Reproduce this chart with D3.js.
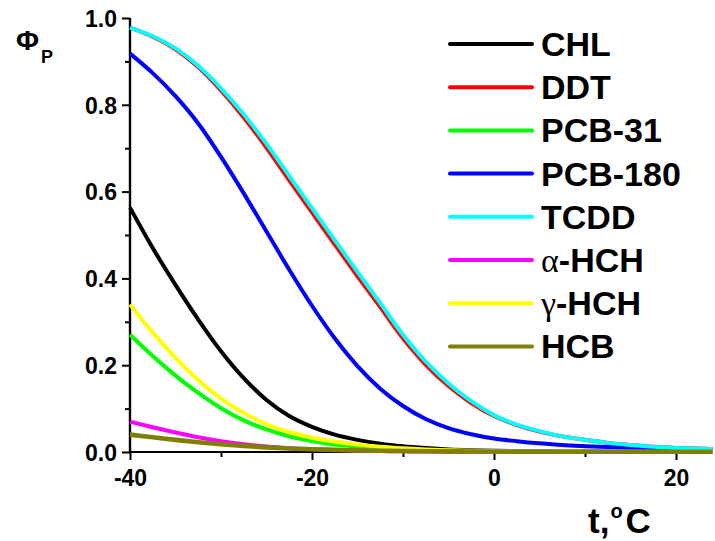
<!DOCTYPE html>
<html><head><meta charset="utf-8">
<script src="https://cdn.jsdelivr.net/npm/d3@7"></script>
<style>body{margin:0;background:#fff}svg{display:block}</style>
</head><body>
<svg id="c" width="715" height="541"></svg>
<script>
const temps = [-40,-37.5,-35,-32.5,-30,-27.5,-25,-22.5,-20,-17.5,-15,-12.5,-10,-7.5,-5,-2.5,0,2.5,5,7.5,10,12.5,15,17.5,20,22.5,24];
const CHL    = [0.563,0.47,0.385,0.305,0.232,0.17,0.12,0.083,0.058,0.04,0.028,0.019,0.013,0.009,0.006,0.0042,0.003,0.0022,0.0016,0.0012,0.001,0.0008,0.0006,0.0005,0.0004,0.0004,0.0003];
const DDT    = [0.978,0.957,0.928,0.887,0.833,0.771,0.701,0.626,0.552,0.478,0.405,0.334,0.262,0.201,0.152,0.113,0.083,0.062,0.047,0.036,0.028,0.021,0.016,0.012,0.0095,0.0078,0.007];
const PCB31  = [0.27,0.221,0.176,0.136,0.101,0.073,0.052,0.036,0.025,0.017,0.012,0.0085,0.006,0.0043,0.0031,0.0022,0.0016,0.0012,0.0009,0.0007,0.0005,0.0004,0.0003,0.0003,0.0002,0.0002,0.0002];
const PCB180 = [0.918,0.873,0.82,0.757,0.68,0.596,0.508,0.42,0.337,0.262,0.198,0.146,0.106,0.076,0.055,0.041,0.031,0.025,0.02,0.016,0.0135,0.0115,0.01,0.009,0.008,0.007,0.0065];
const TCDD   = [0.978,0.958,0.93,0.89,0.838,0.778,0.71,0.636,0.562,0.488,0.415,0.343,0.27,0.208,0.158,0.117,0.085,0.063,0.048,0.036,0.028,0.021,0.016,0.012,0.0095,0.0078,0.007];
const aHCH   = [0.07,0.057,0.045,0.034,0.025,0.018,0.0125,0.0088,0.0062,0.0044,0.0031,0.0022,0.0015,0.001,0.0007,0.0005,0.0004,0.0003,0.0002,0.0002,0.0001,0.0001,0.0001,0.0001,0,0,0];
const gHCH   = [0.34,0.275,0.217,0.166,0.123,0.09,0.064,0.046,0.033,0.024,0.017,0.012,0.0085,0.006,0.0043,0.003,0.0022,0.0016,0.0012,0.001,0.0008,0.0006,0.0005,0.0004,0.0003,0.0003,0.0003];
const HCB    = [0.04,0.034,0.028,0.0225,0.0178,0.0138,0.0106,0.0081,0.0062,0.0048,0.0037,0.0029,0.0023,0.0018,0.0015,0.0012,0.001,0.0009,0.0008,0.0007,0.0006,0.0006,0.0005,0.0005,0.0005,0.0005,0.0005];

const seriesNames  = ["CHL","DDT","PCB-31","PCB-180","TCDD","α-HCH","γ-HCH","HCB"];
const seriesValues = [CHL, DDT, PCB31, PCB180, TCDD, aHCH, gHCH, HCB];
const seriesColors = ["#000000","#ff0000","#00ff00","#0000ff","#00ffff","#ff00ff","#ffff00","#808000"];

const xMajorTicks = [-40,-20,0,20];
const xTickLabels = ["-40","-20","0","20"];
const xMinorTicks = [-30,-10,10];
const yMajorTicks = [0,0.2,0.4,0.6,0.8,1.0];
const yTickLabels = ["0.0","0.2","0.4","0.6","0.8","1.0"];
const yMinorTicks = [0.1,0.3,0.5,0.7,0.9];

const svg = d3.select("#c");
const x = d3.scaleLinear().domain([-40,24]).range([130,712.4]);
const y = d3.scaleLinear().domain([0,1]).range([452,18]);

const font = "'Liberation Sans', Arial, sans-serif";
const gx = svg.append("g").attr("transform","translate(0,452)")
  .call(d3.axisBottom(x).tickValues(xMinorTicks).tickSize(5).tickFormat(""));
const gx2 = svg.append("g").attr("transform","translate(0,452)")
  .call(d3.axisBottom(x).tickValues(xMajorTicks).tickSize(8).tickPadding(10)
  .tickFormat((d,i)=>xTickLabels[i]));
const gy = svg.append("g").attr("transform","translate(130,0)")
  .call(d3.axisLeft(y).tickValues(yMinorTicks).tickSize(5).tickFormat(""));
const gy2 = svg.append("g").attr("transform","translate(130,0)")
  .call(d3.axisLeft(y).tickValues(yMajorTicks).tickSize(8).tickPadding(5)
  .tickFormat((d,i)=>yTickLabels[i]));
svg.selectAll(".domain").attr("stroke","#000").attr("stroke-width",2.2);
svg.selectAll(".tick line").attr("stroke","#000").attr("stroke-width",2);
svg.selectAll(".tick text").attr("fill","#000").attr("font-family",font)
  .attr("font-weight","bold").attr("font-size",23);
gx2.selectAll(".tick text").attr("dy","0.71em");
gy2.selectAll(".tick text").attr("dy","0.36em");
gx.select(".domain").attr("d","M130,0H712.4");
gx2.select(".domain").attr("d","M130,0H712.4");
gy.select(".domain").attr("d","M0,18V452");
gy2.select(".domain").attr("d","M0,18V452");

// curves
const line = d3.line().x((d,i)=>x(temps[i])).y(d=>y(d)).curve(d3.curveMonotoneX);
seriesValues.forEach((vals,k)=>{
  svg.append("path").datum(vals).attr("d",line)
    .attr("fill","none").attr("stroke",seriesColors[k])
    .attr("stroke-width", k===7?4.6:4).attr("stroke-linejoin","round");
});

// legend
const lg = svg.append("g");
seriesNames.forEach((name,k)=>{
  const ly = 44 + k*43.2;
  lg.append("line").attr("x1",450).attr("x2",532).attr("y1",ly).attr("y2",ly)
    .attr("stroke",seriesColors[k]).attr("stroke-width",4).attr("stroke-linecap","round");
  const t = lg.append("text").attr("x",541).attr("y",ly+12)
    .attr("font-family",font).attr("font-weight","bold").attr("font-size",34).attr("fill","#000");
  if (name[0]==="α" || name[0]==="γ") {
    t.append("tspan").attr("font-family","'Liberation Serif', 'DejaVu Serif', serif")
      .attr("font-weight","normal").text(name[0]);
    t.append("tspan").text(name.slice(1));
  } else t.text(name);
});

// axis titles
const yt = svg.append("text").attr("x",16).attr("y",50).attr("font-family",font)
  .attr("font-weight","bold").attr("fill","#000");
yt.append("tspan").attr("font-size",28).text("Φ");
yt.append("tspan").attr("font-size",18).attr("dx",2).attr("dy",13).text("P");

const xt = svg.append("text").attr("x",588).attr("y",533).attr("font-family",font)
  .attr("font-weight","bold").attr("fill","#000").attr("font-size",35);
xt.append("tspan").text("t,");
xt.append("tspan").attr("font-size",20).attr("dx",1).attr("dy",-15).text("o");
xt.append("tspan").attr("dy",15).attr("dx",3).text("C");
</script>
</body></html>
